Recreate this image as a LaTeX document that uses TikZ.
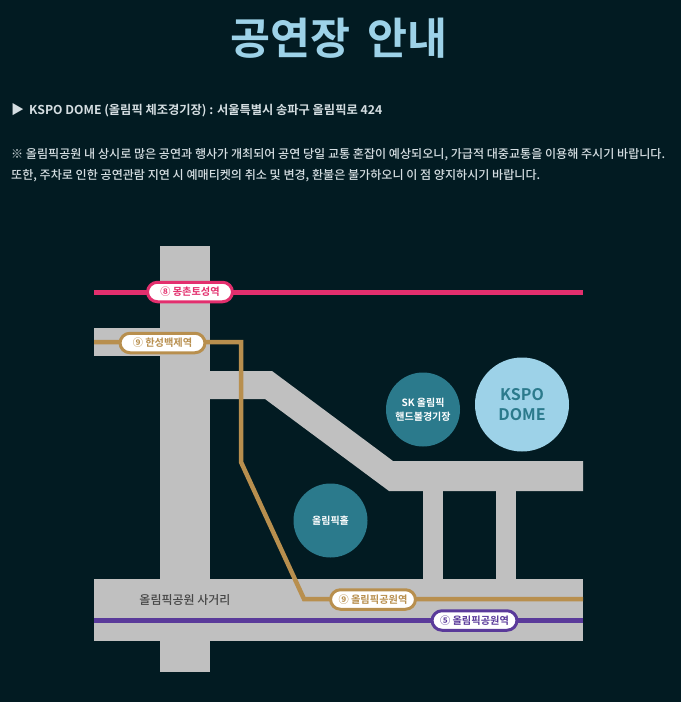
\documentclass[tikz,border=0pt]{standalone}
\usepackage{fontspec}
\setmainfont{Noto Sans CJK KR}[BoldFont={Noto Sans CJK KR Bold}]
\newfontfamily\krmed{Noto Sans CJK KR Medium}
\definecolor{bgc}{HTML}{021B22}
\definecolor{roadc}{HTML}{C0C0C0}
\definecolor{pinkc}{HTML}{E32F6E}
\definecolor{goldc}{HTML}{B88F4E}
\definecolor{purplec}{HTML}{5A3A9A}
\definecolor{tealc}{HTML}{2B7A8C}
\definecolor{skyc}{HTML}{9DD2E8}
\definecolor{txtc}{HTML}{D5DEE2}
\tikzset{
  x=1pt,y=-1pt,
  road/.style={fill=roadc,draw=none},
  metro/.style={line width=4.5pt,line join=miter},
  badge/.style={draw=#1,text=#1,fill=white,line width=3pt,rounded corners=10pt,inner sep=0pt,minimum width=85pt,minimum height=19.5pt,font=\bfseries\fontsize{10.2}{12}\selectfont},
  venue/.style={circle,inner sep=0pt,align=center,text=white,fill=tealc,minimum size=74pt,font=\bfseries\fontsize{10}{14}\selectfont},
  copyline/.style={anchor=west,text=txtc,inner sep=0pt,font=\krmed\fontsize{12.07}{14}\selectfont},
}
\begin{document}
\begin{tikzpicture}
\fill[bgc] (0,0) rectangle (681,702);
\useasboundingbox (0,0) rectangle (681,702);
\node[text=skyc,font=\bfseries\fontsize{43.5}{46}\selectfont,inner sep=0pt] (title) at (339,38) {공연장\hspace{0.4em}안내};
\node[copyline,font=\bfseries\fontsize{13}{14}\selectfont] (tri) at (11,110) {▶};
\node[copyline,font=\bfseries\fontsize{12.25}{14}\selectfont] (addr) at (29,110.5) {KSPO DOME (올림픽 체조경기장) : 서울특별시 송파구 올림픽로 424};
\node[copyline] (note1) at (11,154.5) {※ 올림픽공원 내 상시로 많은 공연과 행사가 개최되어 공연 당일 교통 혼잡이 예상되오니, 가급적 대중교통을 이용해 주시기 바랍니다.};
\node[copyline] (note2) at (11,175.5) {또한, 주차로 인한 공연관람 지연 시 예매티켓의 취소 및 변경, 환불은 불가하오니 이 점 양지하시기 바랍니다.};
% roads
\fill[road] (160,246) rectangle (209.5,672);
\fill[road] (94,328) rectangle (160,356);
\fill[road] (94,579) rectangle (583,641);
\fill[road] (209,371) -- (272,371) -- (393,461) -- (583,461) -- (583,491) -- (389,491) -- (265,399) -- (209,399) -- cycle;
\fill[road] (423,490) rectangle (443,580);
\fill[road] (496,490) rectangle (516,580);
% venues
\node[venue] (sk) at (423,409.5) {SK 올림픽\\핸드볼경기장};
\node[venue,fill=skyc,text=tealc,minimum size=94pt,font=\bfseries\fontsize{16}{20}\selectfont] (dome) at (522,404.5) {KSPO\\DOME};
\node[venue] (hall) at (330.5,520.5) {올림픽홀};
\node[text=black!72,inner sep=0pt,font=\krmed\fontsize{12}{14}\selectfont] (junction) at (185,600) {올림픽공원 사거리};
% line ends
\coordinate (pa) at (94,292.5); \coordinate (pb) at (583,292.5);
\coordinate (ga) at (94,342); \coordinate (g1) at (241,342); \coordinate (g2) at (241,462); \coordinate (g3) at (304,599); \coordinate (gb) at (583,599);
\coordinate (va) at (94,620.5); \coordinate (vb) at (583,620.5);
\draw[metro,pinkc] (pa) -- (pb);
\draw[metro,goldc] (ga) -- (g1) -- (g2) -- (g3) -- (gb);
\draw[metro,purplec] (va) -- (vb);
% stations
\node[badge=pinkc] (s8) at (190,292) {⑧ 몽촌토성역};
\node[badge=goldc] (s9a) at (162.5,343) {⑨ 한성백제역};
\node[badge=goldc] (s9b) at (373,599.5) {⑨ 올림픽공원역};
\node[badge=purplec] (s5) at (474.5,620.5) {⑤ 올림픽공원역};
\end{tikzpicture}
\end{document}
